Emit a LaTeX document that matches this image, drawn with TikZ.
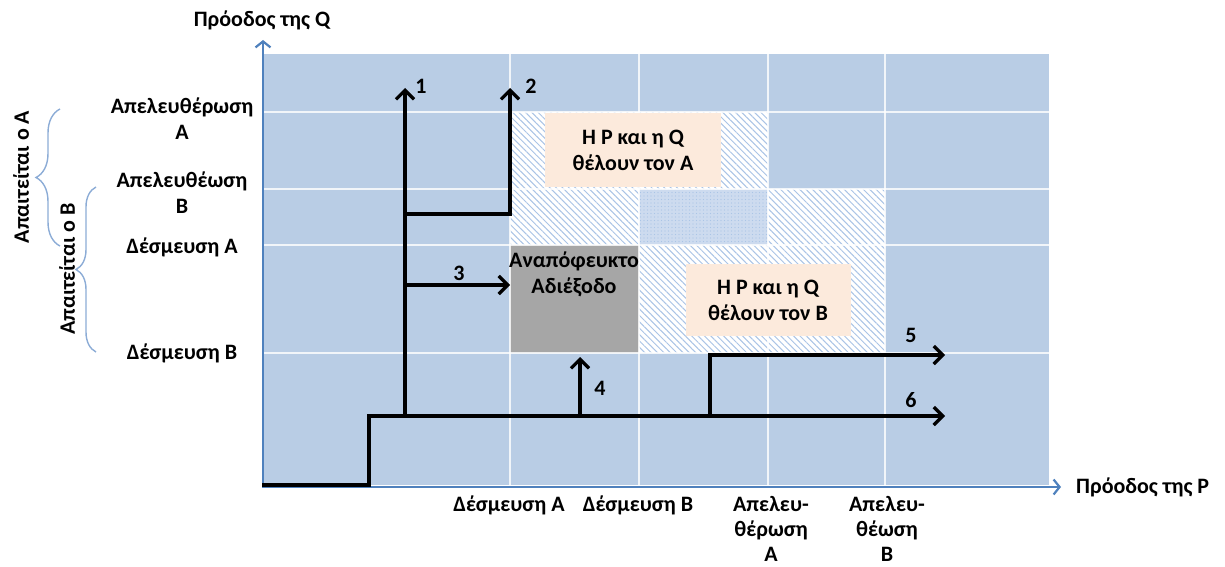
\documentclass[tikz,border=0pt]{standalone}
\usepackage{fontspec}
\setmainfont{Carlito}
\usetikzlibrary{arrows.meta,patterns.meta,decorations.pathreplacing,positioning}

\definecolor{axisblue}{RGB}{79,129,189}
\definecolor{cellblue}{RGB}{185,205,229}
\definecolor{hatchblue}{RGB}{170,196,230}
\definecolor{dotblue}{RGB}{205,219,239}
\definecolor{peach}{RGB}{252,234,220}
\definecolor{deadgray}{RGB}{166,166,166}
\definecolor{braceblue}{RGB}{140,172,214}

\begin{document}
\begin{tikzpicture}[x=1pt, y=-1pt,
		txt/.style={font=\fontsize{22}{26}\selectfont\bfseries, align=center, inner sep=1pt},
		ticktxt/.style={txt, font=\fontsize{22}{25}\selectfont\bfseries, inner sep=0pt},
		route/.style={line width=3.2pt, line cap=rect, -{Straight Barb[length=9pt, width=18pt, line width=3.2pt]}},
		axisline/.style={axisblue, line width=2.2pt, -{Straight Barb[length=6pt, width=15pt, line width=2.2pt]}},
		wantbox/.style={txt, fill=peach, inner sep=0pt},
		sidebrace/.style={braceblue, line width=1.4pt, decorate, decoration={brace, amplitude=#1}}]
		\useasboundingbox (0, 0) rectangle (1225, 567);
		
		% background of the plot
		\fill[cellblue] (262, 54) rectangle (1049, 485);
		
		% hatched area
		\fill[white] (510, 112) -- (768, 112) -- (768, 189) -- (885, 189) -- (885, 353) -- (639, 353) -- (639, 245) -- (510, 245) -- cycle;
		\fill[pattern={Lines[angle=-45, distance=4.5pt, line width=1pt]}, pattern color=hatchblue]
			(510, 112) -- (768, 112) -- (768, 189) -- (885, 189) -- (885, 353) -- (639, 353) -- (639, 245) -- (510, 245) -- cycle;
		
		% overlap of both
		\fill[dotblue] (639, 189) rectangle (768, 245);
		\fill[pattern={Dots[distance=3.5pt, radius=0.7pt]}, pattern color=hatchblue] (639, 189) rectangle (768, 245);
		
		% deadlock cell
		\fill[deadgray] (510, 245) rectangle (639, 353);
		
		% grid
		\foreach \x in {510, 639, 768, 885}
		\draw[white, line width=1.4pt, opacity=0.8] (\x, 54) -- (\x, 485);
		\foreach \y in {112, 189, 245, 353}
		\draw[white, line width=1.4pt, opacity=0.8] (262, \y) -- (1049, \y);
		
		% boxes with text
		\node[wantbox, minimum width=176pt, minimum height=73pt] (wantA) at (633, 150) {Η Ρ και η Q\\θέλουν τον Α};
		\node[wantbox, minimum width=165pt, minimum height=72pt] (wantB) at (768, 300) {Η Ρ και η Q\\θέλουν τον Β};
		\node[txt] (dead) at (574, 274) {Αναπόφευκτο\\Αδιέξοδο};
		
		% axes
		\draw[axisline] (262, 487) -- (1061, 487); % x-axis
		\draw[axisline] (263, 487) -- (263, 40); % y-axis
		\node[txt] (qaxis) at (262, 20) {Πρόοδος της Q};
		\node[txt, anchor=west] (paxis) at (1075, 487) {Πρόοδος της P};
		
		% tick labels
		\node[txt] (xdA) at (509, 505) {Δέσμευση Α};
		\node[txt] (xdB) at (638, 505) {Δέσμευση Β};
		\node[ticktxt] (xrA) at (771, 529) {Απελευ-\\θέρωση\\Α};
		\node[ticktxt] (xrB) at (887, 529) {Απελευ-\\θέωση\\Β};
		\node[txt] (yrA) at (182, 119) {Απελευθέρωση\\Α};
		\node[txt] (yrB) at (182, 193) {Απελευθέωση\\Β};
		\node[txt] (ydA) at (182, 247) {Δέσμευση Α};
		\node[txt] (ydB) at (182, 353) {Δέσμευση Β};
		
		% braces on the left
		\draw[sidebrace=24pt] (60, 246) -- (60, 109);
		\draw[sidebrace=20pt] (96, 352) -- (96, 187);
		\node[txt, rotate=90] (needA) at (21, 177) {Απαιτείται ο Α};
		\node[txt, rotate=90] (needB) at (67, 269) {Απαιτείται ο Β};
		
		% paths
		\coordinate (o) at (264, 485);
		\coordinate (k6) at (369, 416);
		\coordinate (e6) at (945, 416);
		\coordinate (b1) at (405, 416);
		\coordinate (e1) at (405, 88);
		\coordinate (b2) at (405, 214);
		\coordinate (e2) at (510, 88);
		\coordinate (b3) at (405, 285);
		\coordinate (e3) at (510, 285);
		\coordinate (b4) at (580, 416);
		\coordinate (e4) at (580, 357);
		\coordinate (b5) at (710, 416);
		\coordinate (e5) at (945, 355);
		
		\draw[route] (o) -| (k6) -- (e6);
		\draw[route] (b1) -- (e1);
		\draw[route] (b2) -| (e2);
		\draw[route] (b3) -- (e3);
		\draw[route] (b4) -- (e4);
		\draw[route] (b5) |- (e5);
		
		\node[txt] (n1) at (421, 86) {1};
		\node[txt] (n2) at (531, 86) {2};
		\node[txt] (n3) at (459, 273) {3};
		\node[txt] (n4) at (600, 388) {4};
		\node[txt] (n5) at (911, 335) {5};
		\node[txt] (n6) at (911, 400) {6};
		
	\end{tikzpicture}
\end{document}
